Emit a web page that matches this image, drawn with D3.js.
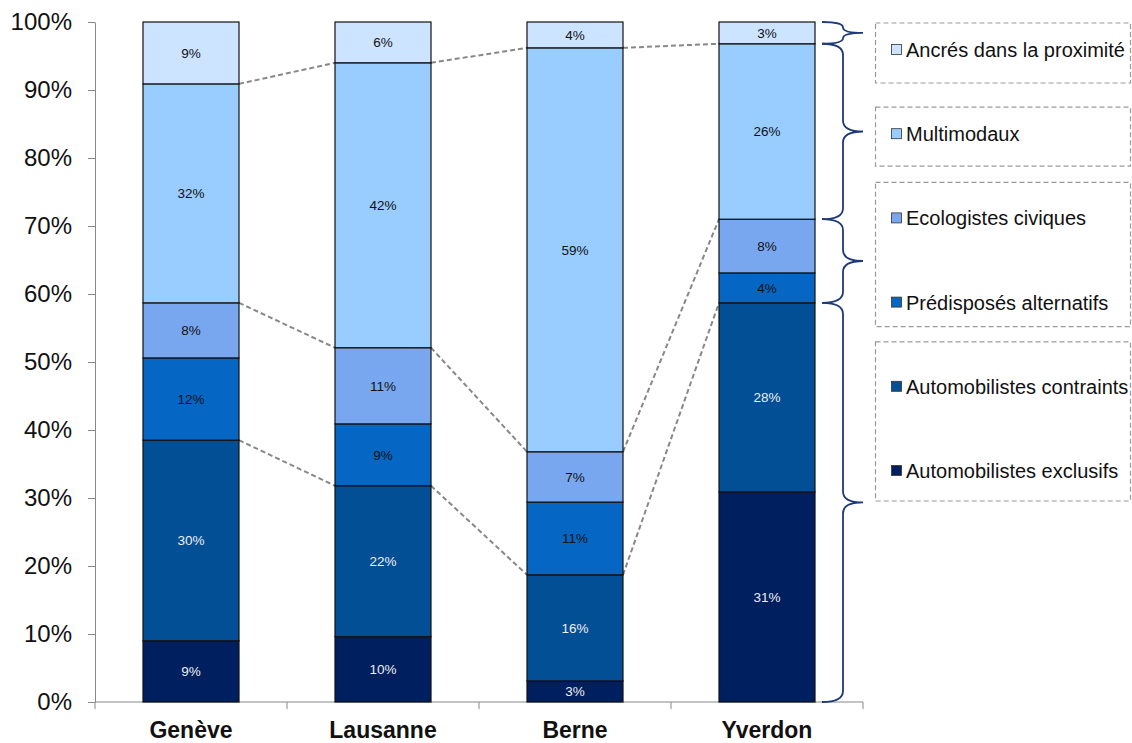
<!DOCTYPE html>
<html>
<head>
<meta charset="utf-8">
<script src="https://cdn.jsdelivr.net/npm/d3@7"></script>
<style>
  body { margin: 0; background: #fff; }
  text { font-family: "Liberation Sans", Arial, sans-serif; }
</style>
</head>
<body>
<svg id="mainSVG"></svg>
<script>
// data, bottom to top
let cities = ['Genève', 'Lausanne', 'Berne', 'Yverdon']
let groups = ['Automobilistes exclusifs', 'Automobilistes contraints', 'Prédisposés alternatifs',
              'Ecologistes civiques', 'Multimodaux', 'Ancrés dans la proximité']
let exclusifs   = [9.0, 9.6, 3.1, 30.9]
let contraints  = [29.5, 22.2, 15.6, 27.8]
let predisposes = [12.1, 9.1, 10.7, 4.4]
let ecologistes = [8.1, 11.2, 7.4, 7.9]
let multimodaux = [32.2, 41.9, 59.4, 25.8]
let ancres      = [9.1, 6.0, 3.8, 3.2]
let yTicks = [0, 10, 20, 30, 40, 50, 60, 70, 80, 90, 100]

let colors = ['#001F5F', '#034F96', '#0566C4', '#79A7EF', '#99CCFF', '#CCE4FF']
let labelColors = ['#eeeeee', '#eeeeee', '#111', '#111', '#111', '#111']

let w = 1132, h = 743
let m = {t: 22, l: 95, r: 863, b: 702}

let svg = d3.select('#mainSVG').attr('width', w).attr('height', h)

let series = [exclusifs, contraints, predisposes, ecologistes, multimodaux, ancres]
let rows = cities.map((c, i) => {
    let r = {city: c}
    groups.forEach((g, j) => r[g] = series[j][i])
    return r
})
let stacked = d3.stack().keys(groups)(rows)

let x = d3.scaleBand().domain(cities).range([m.l, m.r]).paddingInner(0.5).paddingOuter(0.25)
let y = d3.scaleLinear().domain([0, 100]).range([m.b, m.t])

// y axis
let yAxis = svg.append('g')
    .attr('transform', `translate(${m.l},0)`)
    .call(d3.axisLeft(y).tickValues(yTicks).tickFormat(d => d + '%').tickSize(7).tickPadding(16).tickSizeOuter(0))
yAxis.select('.domain').attr('stroke', '#888')
yAxis.selectAll('.tick line').attr('stroke', '#888')
yAxis.selectAll('.tick text').attr('font-size', 24).attr('fill', '#111')
    .attr('font-family', '"Liberation Sans", Arial, sans-serif')

// x axis
let edges = cities.map(c => x(c) - (x.step() - x.bandwidth()) / 2).concat([m.r])
svg.append('line').attr('x1', m.l).attr('x2', m.r).attr('y1', m.b).attr('y2', m.b).attr('stroke', '#888')
svg.selectAll('.xtick').data(edges).join('line')
    .attr('x1', d => d).attr('x2', d => d).attr('y1', m.b).attr('y2', m.b + 7).attr('stroke', '#888')
svg.selectAll('.xlab').data(cities).join('text')
    .attr('x', d => x(d) + x.bandwidth() / 2).attr('y', 738)
    .attr('text-anchor', 'middle').attr('font-size', 23).attr('font-weight', 'bold').attr('fill', '#111')
    .text(d => d)

// dashed connectors between bars
let levels = [1, 3, 4]
levels.forEach(k => {
    for (let i = 0; i < cities.length - 1; i++) {
        svg.append('line')
            .attr('x1', x(cities[i]) + x.bandwidth()).attr('y1', y(stacked[k][i][1]))
            .attr('x2', x(cities[i + 1])).attr('y2', y(stacked[k][i + 1][1]))
            .attr('stroke', '#888').attr('stroke-width', 2).attr('stroke-dasharray', '5,3')
    }
})

// bars
stacked.forEach((s, k) => {
    let g = svg.append('g')
    g.selectAll('rect').data(s).join('rect')
        .attr('x', d => x(d.data.city)).attr('width', x.bandwidth())
        .attr('y', d => y(d[1])).attr('height', d => y(d[0]) - y(d[1]))
        .attr('fill', colors[k]).attr('stroke', '#111').attr('stroke-width', 1.2)
    g.selectAll('text').data(s).join('text')
        .attr('x', d => x(d.data.city) + x.bandwidth() / 2)
        .attr('y', d => y((d[0] + d[1]) / 2))
        .attr('dy', '0.35em').attr('text-anchor', 'middle').attr('font-size', 13.5)
        .attr('fill', labelColors[k])
        .text(d => Math.round(d[1] - d[0]) + '%')
})

// braces following the last bar
let last = cities.length - 1
let braceSpans = [[0, 1], [2, 3], [4, 4], [5, 5]]
function brace(x0, y0, y1, xm, xt) {
    let ym = (y0 + y1) / 2
    let r = Math.min(11, (y1 - y0) / 4)
    return `M${x0},${y0} Q${xm},${y0} ${xm},${y0 + r} L${xm},${ym - r} Q${xm},${ym} ${xt},${ym}` +
           ` Q${xm},${ym} ${xm},${ym + r} L${xm},${y1 - r} Q${xm},${y1} ${x0},${y1}`
}
braceSpans.forEach(([a, b]) => {
    svg.append('path')
        .attr('d', brace(822, y(stacked[b][last][1]), y(stacked[a][last][0]), 843, 863))
        .attr('fill', 'none').attr('stroke', '#1F3A7A').attr('stroke-width', 1.8)
})

// legend
let legendY = i => 50 + i * 84.2
let legendOrder = groups.slice().reverse()
// [first row, last row, pad above, pad below]
let boxes = [[0, 0, 27, 33], [1, 1, 27, 32], [2, 3, 36, 24], [4, 5, 45, 30]]
boxes.forEach(([a, b, pt, pb]) => {
    svg.append('rect')
        .attr('x', 875.5).attr('y', legendY(a) - pt).attr('width', 255)
        .attr('height', legendY(b) - legendY(a) + pt + pb)
        .attr('fill', 'none').attr('stroke', '#999').attr('stroke-width', 1.2).attr('stroke-dasharray', '5,3')
})
legendOrder.forEach((g, i) => {
    let k = groups.indexOf(g)
    svg.append('rect').attr('x', 891.5).attr('y', legendY(i) - 5.5).attr('width', 10).attr('height', 10)
        .attr('fill', colors[k]).attr('stroke', '#333').attr('stroke-width', 0.8)
    svg.append('text').attr('x', 906).attr('y', legendY(i)).attr('dy', '0.35em')
        .attr('font-size', 20).attr('fill', '#111').text(g)
})
</script>
</body>
</html>
